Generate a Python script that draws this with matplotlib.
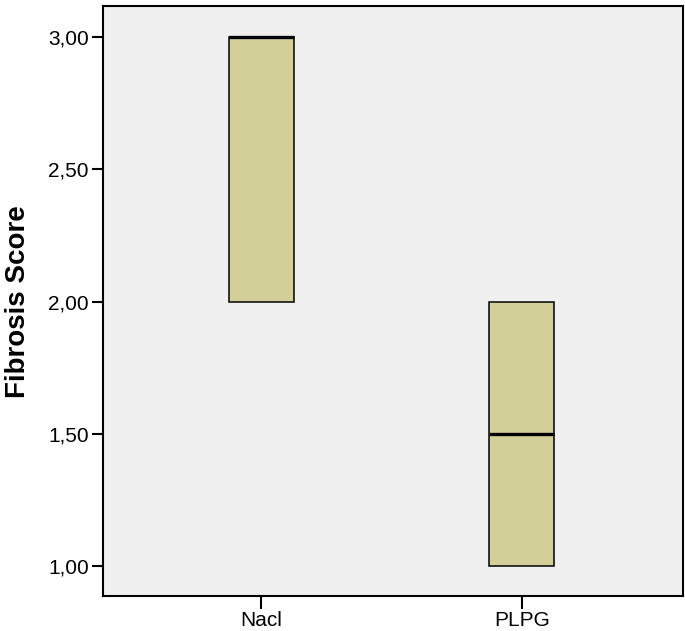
import matplotlib.pyplot as plt

# Datos del boxplot (estilo SPSS)
groups = ['Nacl', 'PLPG']
q1 = [2.0, 1.0]
median = [3.0, 1.5]
q3 = [3.0, 2.0]
whis_lo = [2.0, 1.0]
whis_hi = [3.0, 2.0]
yticks = [1.0, 1.5, 2.0, 2.5, 3.0]

plt.rcParams['font.family'] = ['Liberation Sans', 'DejaVu Sans']

fig = plt.figure(figsize=(6.85, 6.31), dpi=100)
ax = fig.add_axes([0.150, 0.0555, 0.847, 0.9345])
ax.set_facecolor('#f0f0f0')

stats = []
for i, g in enumerate(groups):
    stats.append({'label': g, 'q1': q1[i], 'med': median[i], 'q3': q3[i],
                  'whislo': whis_lo[i], 'whishi': whis_hi[i], 'fliers': []})

ax.bxp(stats, positions=[1, 2], widths=0.25, patch_artist=True,
       showcaps=False, showfliers=False,
       boxprops=dict(facecolor='#d3cf98', edgecolor='black', linewidth=1.1),
       medianprops=dict(color='black', linewidth=2.4),
       whiskerprops=dict(color='black', linewidth=1.1))

ax.set_xlim(0.39, 2.62)
ax.set_ylim(0.887, 3.117)
ax.set_yticks(yticks)
ax.set_yticklabels([f'{v:.2f}'.replace('.', ',') for v in yticks])
ax.set_xticks([1, 2])
ax.set_xticklabels(groups)

ax.tick_params(axis='both', labelsize=15, width=1.5, direction='out')
ax.tick_params(axis='y', pad=2, length=8)
ax.tick_params(axis='x', pad=2, length=9)
for s in ax.spines.values():
    s.set_linewidth(1.5)

ax.set_ylabel('Fibrosis Score', fontsize=20, fontweight='bold', labelpad=12)

fig.savefig('out.png', dpi=100)
